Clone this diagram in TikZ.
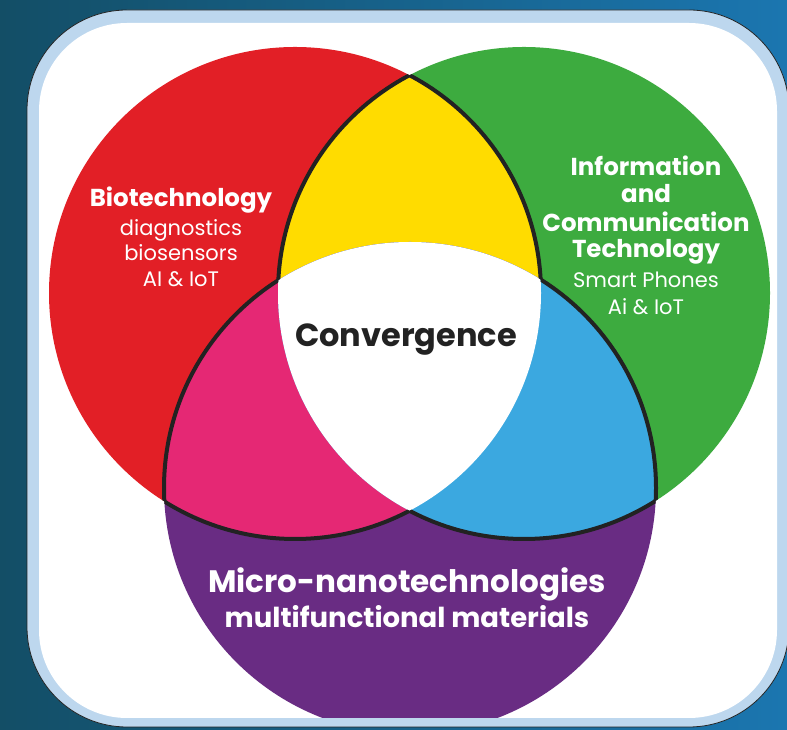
\documentclass[tikz,border=0pt]{standalone}
\usepackage{fontspec}
\setmainfont{Poppins}
\usepackage{tikz}

\definecolor{bgDark}{HTML}{134E66}
\definecolor{bgBlue}{HTML}{1B76B0}
\definecolor{frameBlue}{HTML}{BDD7EE}
\definecolor{bioRed}{HTML}{E21F26}
\definecolor{ictGreen}{HTML}{3DAB3F}
\definecolor{nanoPurple}{HTML}{692C83}
\definecolor{lensYellow}{HTML}{FFDC00}
\definecolor{lensPink}{HTML}{E52874}
\definecolor{lensBlue}{HTML}{3BA8E0}
\definecolor{inkDark}{HTML}{222222}

\tikzset{
  outline/.style={draw=inkDark, line width=4pt},
  titlebold/.style={text=white, anchor=base, inner sep=0pt, font=\bfseries\fontsize{24.5}{29}\selectfont},
  sublabel/.style={text=white, anchor=base, inner sep=0pt, font=\fontsize{21}{25}\selectfont}
}

\begin{document}
\begin{tikzpicture}[x=1pt,y=1pt]
    \useasboundingbox (0,0) rectangle (787,730);
    \clip (0,0) rectangle (787,730);

    % Background
    \shade[left color=bgDark, right color=bgBlue] (0,0) rectangle (787,730);

    % Frame
    \draw[draw=black!85, line width=0.8pt, fill=frameBlue, rounded corners=100pt] (27,3) rectangle (789,720);
    \fill[white, rounded corners=88pt] (39,12) rectangle (777,707);

    % Circle centres
    \coordinate (bio) at (295,437);
    \coordinate (ict) at (524,437);
    \coordinate (nano) at (410,242);
    \def\rad{246}

    \begin{scope}[rounded corners=88pt]
        \clip (39,12) rectangle (777,707);
    \begin{scope}[sharp corners]

        % Circles
        \fill[bioRed] (bio) circle (\rad);
        \fill[ictGreen] (ict) circle (\rad);
        \fill[nanoPurple] (nano) circle (\rad);

        % Pairwise overlaps
        \begin{scope}
            \clip (bio) circle (\rad);
            \fill[lensYellow] (ict) circle (\rad);
            \fill[lensPink] (nano) circle (\rad);
        \end{scope}
        \begin{scope}
            \clip (ict) circle (\rad);
            \fill[lensBlue] (nano) circle (\rad);
            \clip (nano) circle (\rad);
            \fill[white] (bio) circle (\rad); % Centre
        \end{scope}

        % Outlines of the overlaps
        \begin{scope}[even odd rule]
            \clip (bio) circle (\rad) (nano) circle (\rad);
            \draw[outline] (ict) circle (\rad);
        \end{scope}
        \begin{scope}[even odd rule]
            \clip (ict) circle (\rad) (nano) circle (\rad);
            \draw[outline] (bio) circle (\rad);
        \end{scope}
        \begin{scope}[even odd rule]
            \clip (bio) circle (\rad) (ict) circle (\rad);
            \draw[outline] (nano) circle (\rad);
        \end{scope}
    \end{scope}
    \end{scope}

    % Biotechnology
    \node[titlebold] (bioTitle) at (181,523) {Biotechnology};
    \node[sublabel] (bioDiag) at (181,494) {diagnostics};
    \node[sublabel] (bioSens) at (181,469) {biosensors};
    \node[sublabel] (bioAi) at (181,443) {AI \& IoT};

    % Information and Communication Technology
    \node[titlebold] (ictInfo) at (646,554) {Information};
    \node[titlebold] (ictAnd) at (646,527) {and};
    \node[titlebold] (ictComm) at (646,498) {Communication};
    \node[titlebold] (ictTech) at (646,472) {Technology};
    \node[sublabel] (ictPhones) at (646,442) {Smart Phones};
    \node[sublabel] (ictAi) at (646,415) {Ai \& IoT};

    % Centre
    \node[titlebold, text=inkDark, font=\bfseries\fontsize{32}{37}\selectfont] (conv) at (406,383) {Convergence};

    % Micro-nanotechnologies
    \node[titlebold, font=\bfseries\fontsize{31}{36}\selectfont] (nanoTitle) at (407,137) {Micro-nanotechnologies};
    \node[titlebold, font=\bfseries\fontsize{27.5}{32}\selectfont] (nanoSub) at (407,102) {multifunctional materials};
\end{tikzpicture}
\end{document}
